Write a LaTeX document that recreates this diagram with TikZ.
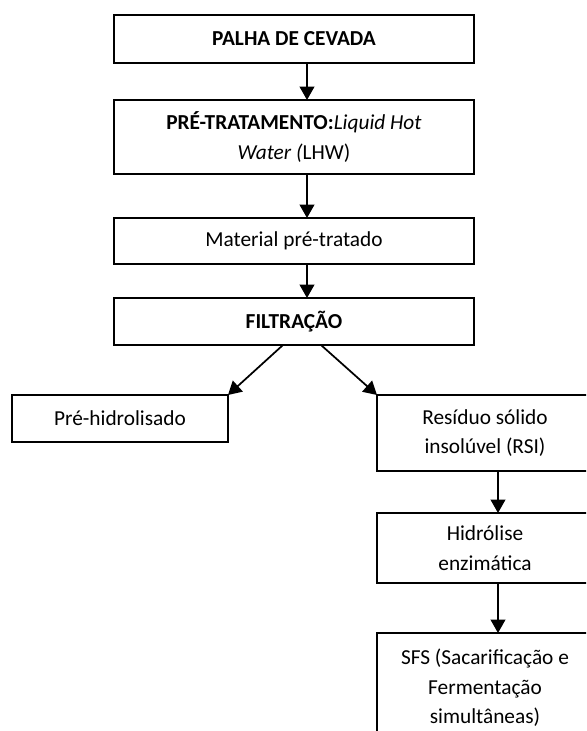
\documentclass[tikz,border=0pt]{standalone}
\usepackage{fontspec}
\setmainfont{Carlito}
\usepackage{tikz}
\usetikzlibrary{arrows.meta, positioning}

\begin{document}
\begin{tikzpicture}[
    node distance=27.75pt,
    box/.style={rectangle, draw, line width=1.3pt, align=center, inner sep=0pt, outer sep=0pt, font=\fontsize{16}{22}\selectfont},
    wide/.style={box, minimum width=270pt},
    narrow/.style={box, minimum width=162pt},
    arrow/.style={-{Triangle[width=11pt,length=10pt]}, line width=1.3pt}
]
\clip (-220.5pt,-519pt) rectangle (219pt,29.25pt);

% Main column
\node[wide, minimum height=36pt] (palha) at (0,0) {\textbf{PALHA DE CEVADA}};
\node[wide, minimum height=55.5pt, below=of palha] (pretrat) {\textbf{PRÉ-TRATAMENTO:}\textit{Liquid Hot}\\\textit{Water (}LHW)};
\node[wide, minimum height=34.5pt, below=33pt of pretrat] (material) {Material pré-tratado};
\node[wide, minimum height=35.25pt, below=25.5pt of material] (filtracao) {\textbf{FILTRAÇÃO}};

% Branches
\node[narrow, minimum height=35.25pt, below=37.5pt of filtracao, xshift=-130.5pt] (prehidro) {Pré-hidrolisado};
\node[narrow, minimum height=57pt, below=37.5pt of filtracao, xshift=143.25pt] (rsi) {Resíduo sólido\\insolúvel (RSI)};
\node[narrow, minimum height=52.5pt, below=31.5pt of rsi] (hidrolise) {Hidrólise\\enzimática};
\node[narrow, minimum height=82.5pt, below=37.5pt of hidrolise] (sfs) {SFS (Sacarificação e\\Fermentação\\simultâneas)};

% Arrows
\draw[arrow] ([xshift=9.75pt]palha.south) -- ([xshift=9.75pt]pretrat.north);
\draw[arrow] ([xshift=9.75pt]pretrat.south) -- ([xshift=9.75pt]material.north);
\draw[arrow] ([xshift=9.75pt]material.south) -- ([xshift=9.75pt]filtracao.north);
\draw[arrow] ([xshift=-8.25pt]filtracao.south) -- (prehidro.north east);
\draw[arrow] ([xshift=20.25pt]filtracao.south) -- (rsi.north west);
\draw[arrow] ([xshift=9.75pt]rsi.south) -- ([xshift=9.75pt]hidrolise.north);
\draw[arrow] ([xshift=9.75pt]hidrolise.south) -- ([xshift=9.75pt]sfs.north);

\end{tikzpicture}
\end{document}
